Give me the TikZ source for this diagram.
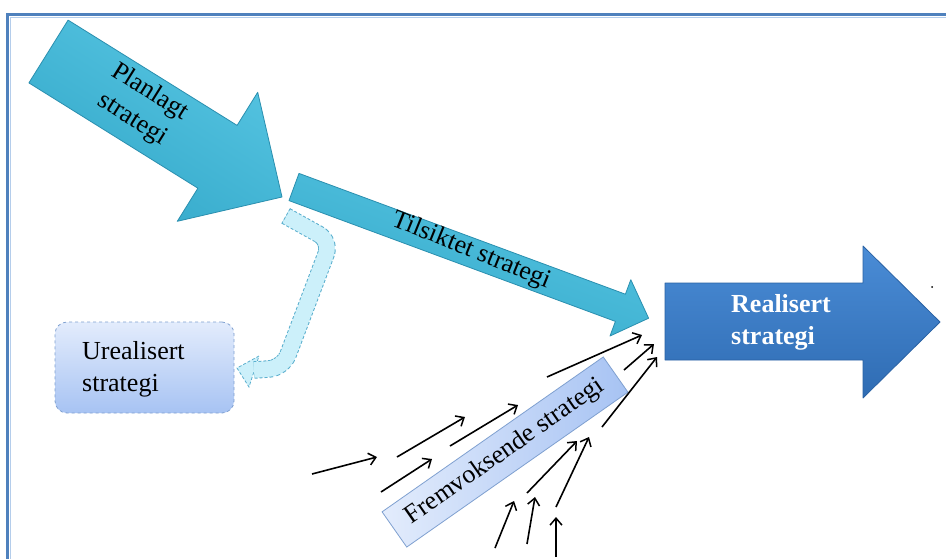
\documentclass[tikz,border=0pt]{standalone}
\usepackage{fontspec}
\setmainfont{Liberation Serif}
\usetikzlibrary{arrows.meta}
\definecolor{framecol}{HTML}{4F81BD}
\definecolor{framelite}{HTML}{B4CDEB}
\definecolor{cyantop}{HTML}{58C6E3}
\definecolor{cyanbot}{HTML}{33A8C9}
\definecolor{cyanedge}{HTML}{2A8FAF}
\definecolor{bluetop}{HTML}{4A8CD6}
\definecolor{bluebot}{HTML}{2F6CB3}
\definecolor{blueedge}{HTML}{2A62A4}
\definecolor{boxtop}{HTML}{E3ECFC}
\definecolor{boxbot}{HTML}{A7C3F3}
\definecolor{boxedge}{HTML}{7FA0D0}
\definecolor{bentfill}{HTML}{CCF0FA}
\definecolor{bentedge}{HTML}{5AAFCE}
\tikzset{
  cyanarrow/.style={draw=cyanedge, line width=0.8pt, line join=round},
  bluearrow/.style={draw=blueedge, line width=0.8pt, line join=round, top color=bluetop, bottom color=bluebot},
  lbl/.style={font=\fontsize{26}{32}\selectfont, align=center, inner sep=0pt},
  thinarrow/.style={line width=1.6pt, -{Straight Barb[length=7pt,width=12pt,line width=1.5pt]}},
}
\begin{document}
\begin{tikzpicture}[x=1pt,y=-1pt]
\useasboundingbox (0,0) rectangle (946,558);
\fill[white] (0,0) rectangle (946,558);
% frame
\draw[framelite, line width=1pt] (10,560) -- (10,17.5) -- (950,17.5);
\draw[framecol, line width=3pt] (7.5,560) -- (7.5,14.5) -- (950,14.5);
% Planlagt strategi arrow
\path[cyanarrow, top color=cyantop, bottom color=cyanbot, shading angle=-32]
  (68.1,20.1) -- (237.1,125.4) -- (257.7,92.3) -- (282,197) -- (177.3,221.3)
  -- (197.9,188.2) -- (28.9,82.9) -- cycle;
\node[lbl, rotate=-32] (plan) at (141,106) {Planlagt\\strategi};
% Tilsiktet strategi arrow
\path[cyanarrow, top color=cyantop, bottom color=cyanbot, shading angle=-20]
  (299,173.4) -- (625.4,294.2) -- (630.8,279.7) -- (648.6,318.2) -- (610,336)
  -- (615.4,321.4) -- (289,200.6) -- cycle;
\node[lbl, rotate=-22] (tils) at (471,251) {Tilsiktet strategi};
% Realisert strategi arrow
\path[bluearrow]
  (665,283) -- (863,283) -- (863,246) -- (940,322) -- (863,398) -- (863,360) -- (665,360) -- cycle;
\node[lbl, text=white, font=\fontsize{26}{32}\selectfont\bfseries, align=left] (real) at (781,322) {Realisert\\strategi};
\fill (932,287) circle (1pt);
% Urealisert strategi box
\node[draw=boxedge, dashed, line width=0.8pt, rounded corners=12pt, top color=boxtop, bottom color=boxbot,
      minimum width=179pt, minimum height=91pt, inner sep=0pt] (urbox) at (144.5,367.5) {};
\node[lbl, align=left, anchor=west] (ureal) at (82,369) {Urealisert\\strategi};
% bent dashed arrow
\filldraw[fill=bentfill, draw=bentedge, line width=0.8pt, dash pattern=on 3pt off 2pt]
  (259,356) -- (237,368) -- (249,387) -- cycle;
\coordinate (b1) at (286,216);
\coordinate (b2) at (331,241);
\coordinate (b3) at (283,368);
\coordinate (b4) at (254,370);
\draw[bentfill, line width=16pt, rounded corners=14pt, line join=round] (b1) -- (b2) -- (b3) -- (b4);
\draw[bentedge, line width=17.5pt, rounded corners=14pt, line join=round, dash pattern=on 3pt off 2pt] (b1) -- (b2) -- (b3) -- (b4);
\draw[bentfill, line width=15.5pt, rounded corners=14pt, line join=round] (b1) -- (b2) -- (b3) -- (b4);
\draw[bentedge, line width=0.8pt, dash pattern=on 3pt off 2pt] (290.3,208.4) -- (281.7,223.6);
% Fremvoksende strategi box
\node[draw=boxedge, line width=0.8pt, left color=boxtop, right color=boxbot, rotate=35,
      minimum width=270pt, minimum height=43pt, inner sep=0pt,
      font=\fontsize{26}{32}\selectfont] (frem) at (505,452) {Fremvoksende strategi};
% small black arrows
\foreach \i/\sx/\sy/\ex/\ey in {1/312/474/377/457, 2/397/457/465/417, 3/381/492/432/459,
  4/450/446/518/405, 5/547/377/642/335, 6/624/370/654/344, 7/602/427/657/357,
  8/527/493/577/441, 9/556/507/589/437, 10/495/548/514/501, 11/527/544/535/497,
  12/556/557/556/517}{
  \coordinate (s\i) at (\sx,\sy);
  \coordinate (e\i) at (\ex,\ey);
  \draw[thinarrow] (s\i) -- (e\i);
}
\end{tikzpicture}
\end{document}
